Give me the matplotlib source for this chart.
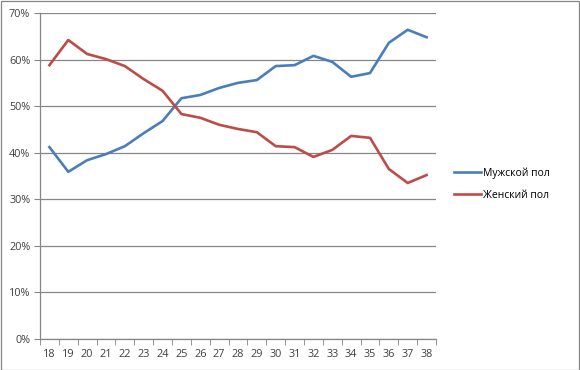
import matplotlib
matplotlib.use("Agg")
import matplotlib.pyplot as plt
import numpy as np
from matplotlib.patches import Rectangle
from matplotlib.ticker import FixedLocator, PercentFormatter

plt.rcParams['font.family'] = ['Open Sans', 'DejaVu Sans']

ages = [18, 19, 20, 21, 22, 23, 24, 25, 26, 27, 28, 29, 30, 31, 32, 33, 34, 35, 36, 37, 38]
male = [41.2, 35.9, 38.4, 39.7, 41.4, 44.2, 46.8, 51.7, 52.4, 53.9, 55.0, 55.6, 58.6, 58.8,
        60.8, 59.5, 56.3, 57.1, 63.6, 66.4, 64.8]
female = [58.8, 64.2, 61.2, 60.1, 58.6, 55.8, 53.3, 48.3, 47.5, 46.0, 45.1, 44.4, 41.4, 41.2,
          39.1, 40.6, 43.6, 43.2, 36.5, 33.5, 35.2]
labels = ["Мужской пол", "Женский пол"]
yticks = [0, 10, 20, 30, 40, 50, 60, 70]

fig = plt.figure(figsize=(5.8, 3.7), dpi=100)
ax = fig.add_axes([40/580, 31/370, 396/580, 326/370])

x = np.arange(len(ages))
l1, = ax.plot(x, male, color='#4A7EBB', lw=1.9, solid_joinstyle='round', label=labels[0])
l2, = ax.plot(x, female, color='#BE4B48', lw=1.9, solid_joinstyle='round', label=labels[1])

ax.set_xlim(-0.5, len(ages) - 0.5)
ax.set_ylim(0, 70)
ax.set_yticks(yticks)
ax.yaxis.set_major_formatter(PercentFormatter(decimals=0))
ax.set_xticks(x)
ax.set_xticklabels([str(a) for a in ages])
ax.xaxis.set_minor_locator(FixedLocator(np.arange(-0.5, len(ages), 1.0)))
ax.tick_params(axis='x', which='major', length=0, pad=7, labelsize=7.8, colors='#404040')
ax.tick_params(axis='x', which='minor', length=4, color='#868686', direction='out')
ax.tick_params(axis='y', length=4, color='#868686', labelsize=7.8, labelcolor='#404040', pad=3)
ax.grid(axis='y', color='#868686', lw=0.9)
ax.set_axisbelow(True)
for s in ['top', 'right']:
    ax.spines[s].set_visible(False)
for s in ['left', 'bottom']:
    ax.spines[s].set_color('#868686')
    ax.spines[s].set_linewidth(0.9)

fig.legend(handles=[l1, l2], labels=labels, loc='center left',
           bbox_to_anchor=(450/580, 1 - 184/370), frameon=False, fontsize=7.5,
           handlelength=2.6, handletextpad=0.15, labelspacing=1.05, borderaxespad=0)

fig.patches.append(Rectangle((0.5/580, 0.5/370), 1 - 1.5/580, 1 - 1.5/370, transform=fig.transFigure,
                             fill=False, edgecolor='#868686', lw=0.9))

fig.savefig('out.png', dpi=100)
